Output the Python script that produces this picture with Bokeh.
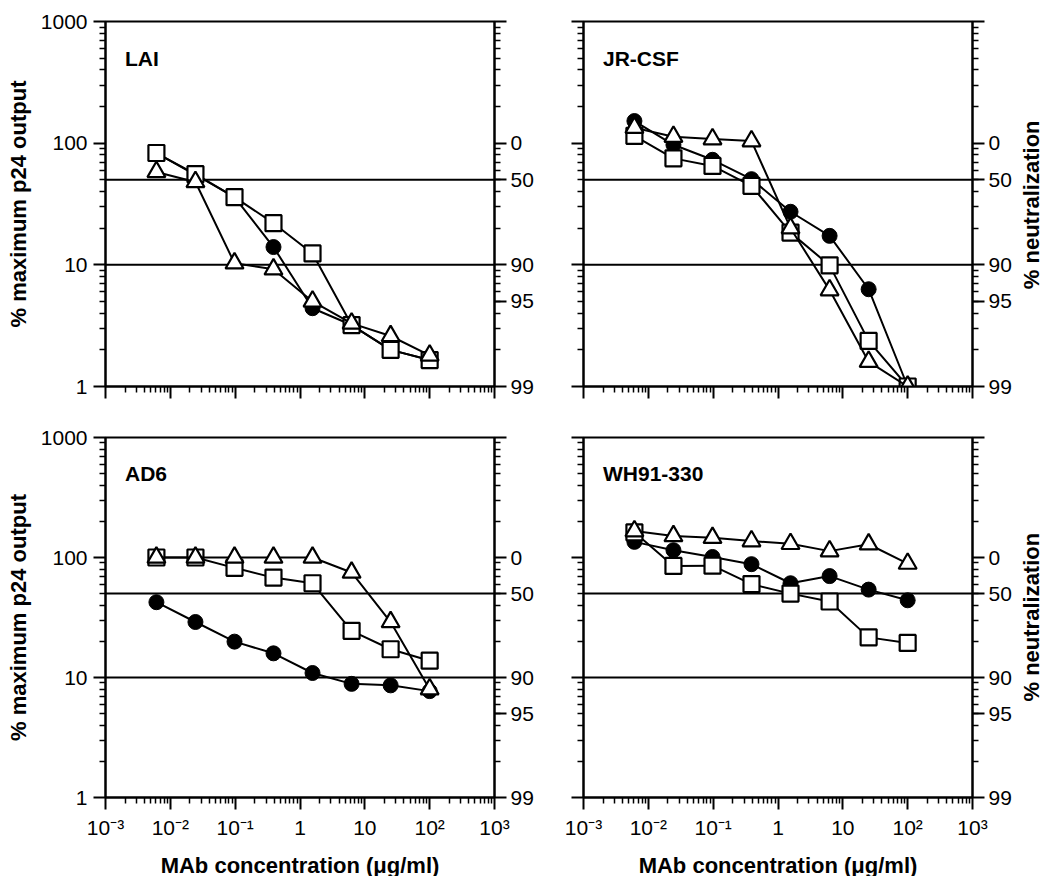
import math
from bokeh.plotting import figure
from bokeh.models import LogAxis, FixedTicker, Span, Label
from bokeh.layouts import column, row
from bokeh.embed import file_html
from bokeh.resources import INLINE

# ---------------- data ----------------
conc = [0.0061, 0.0244, 0.0977, 0.39, 1.56, 6.25, 25, 100]

panel_names = ["LAI", "JR-CSF", "AD6", "WH91-330"]

lai_filled_circle = [83, 55, 36, 14, 4.4, 3.2, 2.0, 1.65]
lai_open_square = [83, 55.6, 36, 22, 12.4, 3.2, 2.0, 1.65]
lai_open_triangle = [58, 48, 10.3, 9.2, 5.0, 3.3, 2.6, 1.8]

jrcsf_filled_circle = [152, 97, 73, 50.6, 27.3, 17.3, 6.3, 1.0]
jrcsf_open_square = [115, 75, 65, 44.6, 18.4, 9.9, 2.37, 1.0]
jrcsf_open_triangle = [134, 113, 108, 104, 20, 6.2, 1.6, 1.0]

ad6_filled_circle = [42.4, 29, 19.9, 15.9, 10.9, 8.85, 8.6, 7.7]
ad6_open_square = [100, 100, 82, 68, 61, 24.5, 17.2, 13.8]
ad6_open_triangle = [100, 100, 100, 100, 100, 75, 29, 8.0]

wh91_filled_circle = [135, 115, 101, 88, 61, 70, 54, 44]
wh91_open_square = [162, 85, 85.5, 60, 50, 43, 21.6, 19.4]
wh91_open_triangle = [166, 151, 146, 137, 130, 113, 129, 89]

reference_levels = [50, 10]

y_ticks = [1, 10, 100, 1000]
y_tick_labels = ["1", "10", "100", "1000"]
neut_ticks = [1, 5, 10, 50, 100, 1000]
neut_tick_labels = ["99", "95", "90", "50", "0", ""]
x_ticks = [0.001, 0.01, 0.1, 1, 10, 100, 1000]
x_tick_labels = ["10\u207b\u00b3", "10\u207b\u00b2", "10\u207b\u00b9", "1", "10", "10\u00b2", "10\u00b3"]

y_title = "% maximum p24 output"
right_title = "% neutralization"
x_title = "MAb concentration (\u03bcg/ml)"

panel_series = [
    (lai_filled_circle, lai_open_square, lai_open_triangle),
    (jrcsf_filled_circle, jrcsf_open_square, jrcsf_open_triangle),
    (ad6_filled_circle, ad6_open_square, ad6_open_triangle),
    (wh91_filled_circle, wh91_open_square, wh91_open_triangle),
]

FONT = "Liberation Sans"
# anchor (start) of the upward-reading right-hand title, on the log y scale
RIGHT_TITLE_START = 10 ** 0.8


def log_minor(lo, hi):
    return [m * 10.0 ** e for e in range(lo, hi) for m in range(2, 10)]


def style_axis(ax, show_labels):
    ax.axis_line_color = "black"
    ax.axis_line_width = 2
    ax.major_tick_line_color = "black"
    ax.major_tick_line_width = 2
    ax.minor_tick_line_color = "black"
    ax.minor_tick_line_width = 1.5
    ax.major_tick_in = 0
    ax.major_tick_out = 12
    ax.minor_tick_in = 0
    ax.minor_tick_out = 6
    ax.major_label_text_font = FONT
    ax.major_label_text_color = "black"
    ax.major_label_text_font_size = "21px" if show_labels else "0px"
    ax.major_label_standoff = 6 if show_labels else 0
    ax.axis_label_text_font = FONT
    ax.axis_label_text_font_style = "bold"
    ax.axis_label_text_font_size = "22px"
    ax.axis_label_text_color = "black"


def make_panel(idx):
    is_left = idx % 2 == 0
    is_bottom = idx >= 2
    circ, sq, tri = panel_series[idx]
    p = figure(
        x_axis_type="log", y_axis_type="log",
        x_range=(1e-3, 1e3), y_range=(1, 1000),
        frame_width=389, frame_height=360 if is_bottom else 365,
        min_border_left=105 if is_left else 29,
        min_border_right=60 if is_left else 82,
        min_border_top=21,
        min_border_bottom=78 if is_bottom else 30,
        output_backend="svg", toolbar_location=None,
        background_fill_color="white", border_fill_color="white",
    )
    p.xgrid.visible = False
    p.ygrid.visible = False
    p.outline_line_color = "black"
    p.outline_line_width = 2
    p.outline_line_alpha = 1.0

    # x axis
    xa = p.xaxis[0]
    xa.ticker = FixedTicker(ticks=x_ticks, minor_ticks=log_minor(-3, 3))
    xa.major_label_overrides = {t: (lab if is_bottom else "") for t, lab in zip(x_ticks, x_tick_labels)}
    style_axis(xa, is_bottom)
    if is_bottom:
        xa.axis_label = x_title
        xa.axis_label_standoff = 11

    # left axis
    ya = p.yaxis[0]
    ya.ticker = FixedTicker(ticks=y_ticks, minor_ticks=log_minor(0, 3))
    ya.major_label_overrides = {t: (lab if is_left else "") for t, lab in zip(y_ticks, y_tick_labels)}
    style_axis(ya, is_left)
    if is_left:
        ya.axis_label = y_title
        ya.axis_label_standoff = 7
        ya.major_label_standoff = 6

    # right axis (% neutralization)
    ra = LogAxis(ticker=FixedTicker(ticks=neut_ticks, minor_ticks=log_minor(0, 3)))
    ra.major_label_overrides = {t: lab for t, lab in zip(neut_ticks, neut_tick_labels)}
    style_axis(ra, True)
    ra.major_label_standoff = 4
    p.add_layout(ra, "right")

    if not is_left:
        # title of the right axis, reading bottom-to-top
        ta = LogAxis(ticker=FixedTicker(ticks=[RIGHT_TITLE_START], minor_ticks=[]))
        ta.major_label_overrides = {RIGHT_TITLE_START: right_title}
        ta.axis_line_color = None
        ta.major_tick_line_color = None
        ta.minor_tick_line_color = None
        ta.major_tick_in = 0
        ta.major_tick_out = 0
        ta.minor_tick_in = 0
        ta.minor_tick_out = 0
        ta.major_label_orientation = math.pi / 2
        ta.major_label_standoff = 17
        ta.major_label_text_font = FONT
        ta.major_label_text_font_style = "bold"
        ta.major_label_text_font_size = "22px"
        ta.major_label_text_color = "black"
        p.add_layout(ta, "right")

    # reference lines
    for lvl in reference_levels:
        p.add_layout(Span(location=lvl, dimension="width", line_color="black",
                          line_width=2, level="underlay"))

    # series: filled circles, open squares, open triangles
    p.line(conc, circ, line_color="black", line_width=2)
    p.scatter(conc, circ, marker="circle", size=15, fill_color="black",
              line_color="black", line_width=1)
    p.line(conc, sq, line_color="black", line_width=2)
    p.scatter(conc, sq, marker="square", size=16, fill_color="white",
              line_color="black", line_width=2.2)
    p.line(conc, tri, line_color="black", line_width=2)
    p.scatter(conc, tri, marker="triangle", size=18, fill_color="white",
              line_color="black", line_width=2.2)

    # panel name
    p.add_layout(Label(x=0.002, y=500, text=panel_names[idx], text_font=FONT,
                       text_font_style="bold", text_font_size="21px",
                       text_color="black", text_align="left",
                       text_baseline="alphabetic"))
    return p


panels = [make_panel(i) for i in range(4)]
layout = column(row(panels[0], panels[1]), row(panels[2], panels[3]))

open("out.html", "w").write(file_html(layout, INLINE))
